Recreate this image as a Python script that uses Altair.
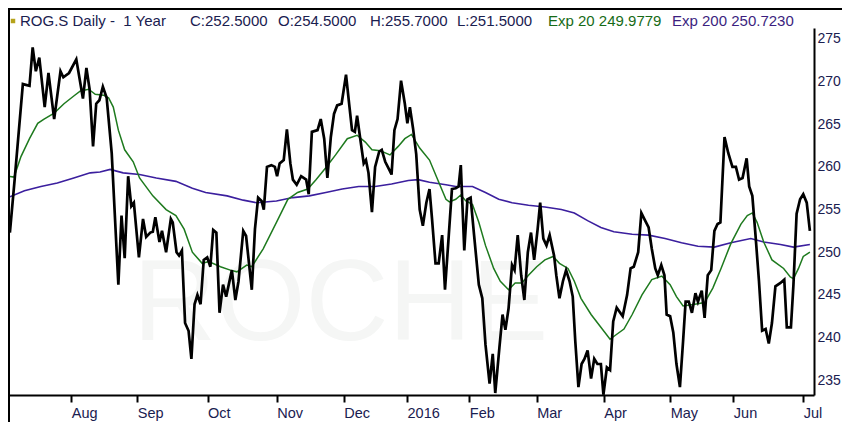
import altair as alt
import pandas as pd

# ---- data (x = trading-day index) ----
close_day = [
    0, 1.5, 4.1, 6.2, 7.2, 8.2, 9.3, 11.0, 12.2, 14.0,
    16.0, 16.9, 18.7, 21.0, 23.1, 24.2, 25.2, 26.3, 27.3, 28.3,
    29.4, 30.6, 32.2, 34.3, 35.3, 36.3, 37.4, 38.4, 39.2, 40.8,
    42.1, 43.1, 44.4, 45.2, 46.0, 47.3, 48.1, 49.4, 50.9, 51.5,
    52.7, 53.5, 54.4, 55.4, 56.5, 57.4, 58.4, 59.3, 60.3, 61.3,
    62.4, 63.4, 64.3, 65.3, 66.3, 67.4, 68.4, 70.2, 71.3, 72.3,
    73.8, 74.7, 76.5, 77.5, 78.5, 79.6, 80.3, 81.3, 82.7, 83.8,
    84.5, 85.3, 86.6, 87.6, 88.7, 89.5, 90.7, 92.1, 93.7, 94.5,
    95.5, 97.3, 98.3, 99.4, 100.4, 101.5, 102.5, 103.5, 104.9, 106.3,
    107.4, 108.2, 109.1, 109.8, 110.8, 111.9, 112.6, 113.4, 114.5, 115.5,
    116.8, 117.6, 118.7, 120.2, 120.7, 121.6, 122.6, 123.7, 124.9, 125.7,
    126.5, 127.5, 128.5, 129.6, 130.6, 131.7, 132.7, 133.5, 134.6, 135.6,
    136.7, 137.6, 138.8, 139.8, 141.0, 141.9, 142.6, 143.7, 144.7, 145.7,
    146.8, 148.3, 149.4, 150.4, 151.7, 152.7, 153.5, 154.8, 155.8, 156.7,
    157.7, 158.8, 159.6, 160.6, 161.7, 162.7, 163.8, 164.8, 165.8, 166.9,
    167.7, 168.7, 169.7, 170.7, 172.1, 172.8, 173.8, 174.9, 175.9, 177.0,
    178.0, 178.8, 179.8, 180.8, 181.7, 182.7, 183.8, 184.8, 185.8, 186.9,
    187.7, 188.8, 189.8, 190.8, 191.9, 193.8, 195.2, 196.3, 197.3, 198.7,
    199.7, 200.9, 202.0, 203.0, 204.1, 204.9, 206.0, 207.0, 207.7, 208.8,
    209.8, 210.8, 211.9, 212.9, 213.7, 214.7, 215.7, 216.8, 217.6, 218.8,
    219.7, 220.7, 221.8, 222.8, 223.8, 224.7, 226.0, 227.2, 228.5, 229.6,
    230.6, 231.7, 233.0, 233.8, 234.8, 235.8, 236.9, 237.9, 239.0, 240.0,
    241.0, 242.1, 243.7, 244.9, 245.7, 247.0, 247.8, 248.8, 249.9, 250.9,
    252.0, 253.0,
]
close_val = [
    252.3, 258.5, 269.7, 269.5, 274.0, 271.2, 272.8, 267.0, 271.0, 265.6,
    271.2, 270.5, 271.0, 272.6, 268.0, 271.6, 269.1, 262.4, 267.4, 267.8,
    269.4, 268.1, 261.6, 246.2, 254.3, 249.3, 258.9, 255.4, 255.8, 249.4,
    253.9, 251.8, 252.3, 252.4, 254.1, 251.2, 252.5, 250.0, 253.9, 253.5,
    250.0, 249.6, 250.2, 241.7, 240.8, 237.5, 243.9, 245.0, 243.9, 249.1,
    249.4, 248.3, 252.6, 252.3, 242.9, 246.2, 244.8, 247.9, 244.4, 246.6,
    252.5, 251.9, 245.6, 252.7, 256.4, 256.0, 255.0, 260.0, 260.2, 260.0,
    258.9, 260.4, 260.8, 264.4, 260.4, 258.5, 257.9, 258.9, 258.5, 256.8,
    264.1, 264.3, 265.6, 263.3, 258.7, 263.5, 266.2, 267.2, 267.4, 270.8,
    267.0, 264.3, 264.1, 266.0, 263.3, 260.4, 260.8, 259.3, 254.7, 260.0,
    261.8, 262.0, 260.6, 259.5, 259.1, 264.3, 265.6, 270.1, 267.4, 265.1,
    267.0, 264.5, 261.5, 255.0, 253.1, 255.8, 257.4, 253.9, 248.7, 248.7,
    252.0, 245.6, 252.0, 257.4, 257.5, 257.7, 260.2, 250.2, 256.2, 256.4,
    252.0, 246.2, 244.6, 239.2, 234.6, 238.1, 233.5, 238.8, 242.7, 240.9,
    243.4, 248.5, 247.9, 252.0, 247.3, 244.4, 250.0, 252.3, 249.1, 252.7,
    255.8, 251.6, 250.8, 252.0, 249.6, 247.3, 244.6, 246.6, 247.9, 246.6,
    244.8, 239.6, 234.2, 236.9, 237.5, 238.5, 235.2, 237.5, 236.9, 236.9,
    233.3, 236.5, 236.2, 241.9, 243.5, 242.5, 245.0, 248.1, 248.3, 250.0,
    254.6, 253.7, 252.9, 250.4, 248.1, 247.3, 248.5, 247.3, 242.7, 242.5,
    240.6, 236.9, 234.2, 239.6, 244.2, 244.2, 242.9, 245.2, 244.2, 245.5,
    242.3, 247.3, 247.9, 252.5, 253.3, 253.5, 263.5, 261.6, 260.0, 260.0,
    258.5, 258.7, 261.0, 257.7, 256.6, 252.0, 246.6, 240.8, 241.0, 239.3,
    241.7, 246.0, 246.4, 246.8, 241.2, 241.2, 246.2, 254.5, 256.2, 256.8,
    255.8, 252.5,
]

ema20_day = [
    -0.6, 1.3, 3.5, 6.2, 8.8, 10.8, 14.0, 17.1, 20.2, 22.3,
    24.9, 27.0, 29.6, 31.2, 32.7, 34.3, 36.3, 39.0, 41.0, 45.2,
    49.4, 52.5, 55.1, 57.7, 60.8, 62.9, 66.6, 69.7, 71.8, 74.9,
    76.5, 80.1, 84.3, 87.9, 91.0, 94.2, 96.8, 99.9, 103.0, 106.7,
    109.8, 112.4, 114.5, 117.1, 120.2, 122.8, 124.9, 127.0, 129.6, 132.7,
    135.3, 137.9, 139.0, 141.0, 142.6, 144.2, 146.3, 148.3, 150.4, 153.0,
    155.1, 157.7, 159.8, 161.9, 164.0, 166.6, 169.2, 171.8, 173.8, 176.5,
    178.5, 180.6, 183.8, 186.9, 189.8, 191.6, 194.2, 196.8, 199.9, 203.0,
    206.2, 208.8, 210.8, 212.9, 216.6, 219.7, 222.3, 224.9, 228.0, 231.2,
    233.2, 234.8, 236.3, 238.4, 241.0, 244.7, 246.8, 247.8, 249.4, 250.9,
    253.0,
]
ema20_val = [
    258.9, 258.8, 261.2, 263.3, 265.1, 265.6, 266.3, 267.4, 268.3, 268.9,
    269.1, 268.5, 268.4, 268.1, 267.0, 264.3, 262.0, 260.6, 258.7, 256.6,
    255.0, 254.3, 252.7, 250.0, 248.7, 248.9, 248.3, 247.9, 247.7, 248.5,
    248.3, 250.4, 253.5, 256.2, 257.0, 257.4, 258.5, 259.9, 261.4, 263.3,
    263.7, 262.9, 262.0, 261.9, 261.4, 262.4, 263.3, 263.8, 262.2, 260.8,
    258.5, 256.2, 255.9, 256.2, 256.7, 256.0, 255.6, 253.5, 250.8, 248.1,
    246.6, 245.6, 246.4, 246.4, 247.3, 248.3, 249.1, 249.5, 248.7, 248.1,
    246.6, 244.6, 242.7, 241.2, 239.8, 240.3, 241.0, 242.7, 245.0, 246.8,
    247.2, 246.2, 244.8, 243.7, 243.9, 244.1, 245.8, 248.1, 251.0, 253.3,
    254.3, 254.6, 253.5, 251.2, 249.1, 248.1, 247.1, 246.9, 248.1, 249.5,
    250.0,
]

ema200_day = [
    -0.6, 4.6, 9.8, 15.0, 20.2, 25.4, 28.5, 31.7, 35.8, 41.0,
    46.3, 52.5, 57.7, 61.9, 68.7, 73.8, 78.0, 84.3, 89.5, 94.7,
    99.9, 105.1, 110.3, 115.5, 120.7, 126.0, 129.1, 132.7, 137.9, 141.0,
    146.3, 150.4, 154.6, 158.8, 164.0, 169.2, 174.4, 178.5, 182.7, 186.9,
    191.0, 196.8, 202.0, 207.2, 212.4, 217.6, 222.8, 228.0, 234.3, 238.4,
    243.7, 247.8, 253.0,
]
ema200_val = [
    256.4, 257.2, 257.7, 258.1, 258.7, 259.3, 259.4, 259.7, 259.3, 259.1,
    258.7, 258.3, 257.5, 257.0, 256.6, 256.1, 255.8, 256.0, 256.4, 256.6,
    257.0, 257.4, 257.7, 257.7, 258.0, 258.4, 258.5, 258.2, 257.9, 257.7,
    257.7, 257.0, 256.2, 255.8, 255.5, 255.3, 255.0, 254.6, 253.7, 252.9,
    252.4, 252.1, 252.0, 251.6, 251.1, 250.7, 250.6, 251.1, 251.6, 251.2,
    250.9, 250.6, 250.9,
]

month_ticks = [19.4, 40.3, 62.5, 84.4, 105.6, 125.6, 145.3, 166.6, 187.8, 208.8, 228.8, 250.9]
month_labels = ["Aug", "Sep", "Oct", "Nov", "Dec", "2016", "Feb", "Mar", "Apr", "May", "Jun", "Jul"]
price_ticks = [235, 240, 245, 250, 255, 260, 265, 270, 275]

header_main = ["ROG.S Daily -\u00a0\u00a01 Year", "C:252.5000", "O:254.5000", "H:255.7000", "L:251.5000"]
header_ema20 = "Exp 20 249.9779"
header_ema200 = "Exp 200 250.7230"
watermark = "ROCHE"

# ---- styling ----
FONT = "Liberation Sans"
NAVY = "#1a2050"
GREEN = "#1e7a1e"
PURPLE = "#3b1f9e"
W, H = 806, 367
PAD_R, PAD_B = 28, 27   # total width 834, total height 414

# label expression for month ticks
expr = f"'{month_labels[-1]}'"
for i in range(len(month_labels) - 2, -1, -1):
    mid = (month_ticks[i] + month_ticks[i + 1]) / 2
    expr = f"datum.value < {mid} ? '{month_labels[i]}' : ({expr})"

x_enc = alt.X(
    "day:Q",
    scale=alt.Scale(domain=[-0.6, 254.3], nice=False, zero=False),
    axis=alt.Axis(
        values=month_ticks, labelExpr=expr, title=None, grid=False,
        domainColor="black", domainWidth=2, tickColor="black", tickWidth=2,
        tickSize=7, labelAlign="left", labelBaseline="top", labelPadding=4,
        labelFont=FONT, labelFontSize=14.5, labelColor=NAVY, labelOverlap=False,
    ),
)
y_enc = alt.Y(
    "price:Q",
    scale=alt.Scale(domain=[233.27, 276.27], nice=False, zero=False),
    axis=alt.Axis(
        orient="right", values=price_ticks, title=None, grid=False,
        domainColor="black", domainWidth=2, ticks=False, labelPadding=3,
        labelAlign="left", labelFont=FONT, labelFontSize=14, labelColor=NAVY,
    ),
)

close_df = pd.DataFrame({"day": close_day, "price": close_val})
e20_df = pd.DataFrame({"day": ema20_day, "price": ema20_val})
e200_df = pd.DataFrame({"day": ema200_day, "price": ema200_val})
one = pd.DataFrame({"k": [0]})

wm = alt.Chart(one).mark_text(
    text=watermark, font=FONT, fontSize=115, color="#f5f6f5",
    align="left", baseline="alphabetic",
).encode(x=alt.value(125), y=alt.value(312))

l200 = alt.Chart(e200_df).mark_line(color=PURPLE, strokeWidth=1.6, clip=True).encode(x=x_enc, y=y_enc)
l20 = alt.Chart(e20_df).mark_line(color=GREEN, strokeWidth=1.5, clip=True).encode(x=x_enc, y=y_enc)
lc = alt.Chart(close_df).mark_line(color="black", strokeWidth=2.7, clip=True).encode(x=x_enc, y=y_enc)


def label(txt, xpos, color):
    return alt.Chart(one).mark_text(
        text=txt, font=FONT, fontSize=15, color=color,
        align="left", baseline="alphabetic",
    ).encode(x=alt.value(xpos), y=alt.value(-2))


header_x = [12, 182, 270, 362, 449]
headers = [label(t, xp, NAVY) for t, xp in zip(header_main, header_x)]
headers.append(label(header_ema20, 540, "#176b17"))
headers.append(label(header_ema200, 664, "#3c1f80"))

left_border = alt.Chart(one).mark_rule(color="black", strokeWidth=2).encode(
    x=alt.value(1), y=alt.value(-20), y2=alt.value(H + PAD_B)
)
top_border = alt.Chart(one).mark_rule(color="black", strokeWidth=2).encode(
    x=alt.value(0), x2=alt.value(W + PAD_R), y=alt.value(-19)
)
icon = alt.Chart(one).mark_square(color="#b5a21a", size=20, opacity=1).encode(
    x=alt.value(5), y=alt.value(-7)
)

chart = alt.layer(
    wm, l200, l20, lc, *headers, left_border, top_border, icon
).properties(
    width=W, height=H,
    autosize=alt.AutoSizeParams(type="none"),
    padding={"left": 0, "top": 20, "right": PAD_R, "bottom": PAD_B},
    background="white",
).configure_view(stroke=None)

chart.save("out.html", embed_options={"renderer": "svg", "actions": False})
